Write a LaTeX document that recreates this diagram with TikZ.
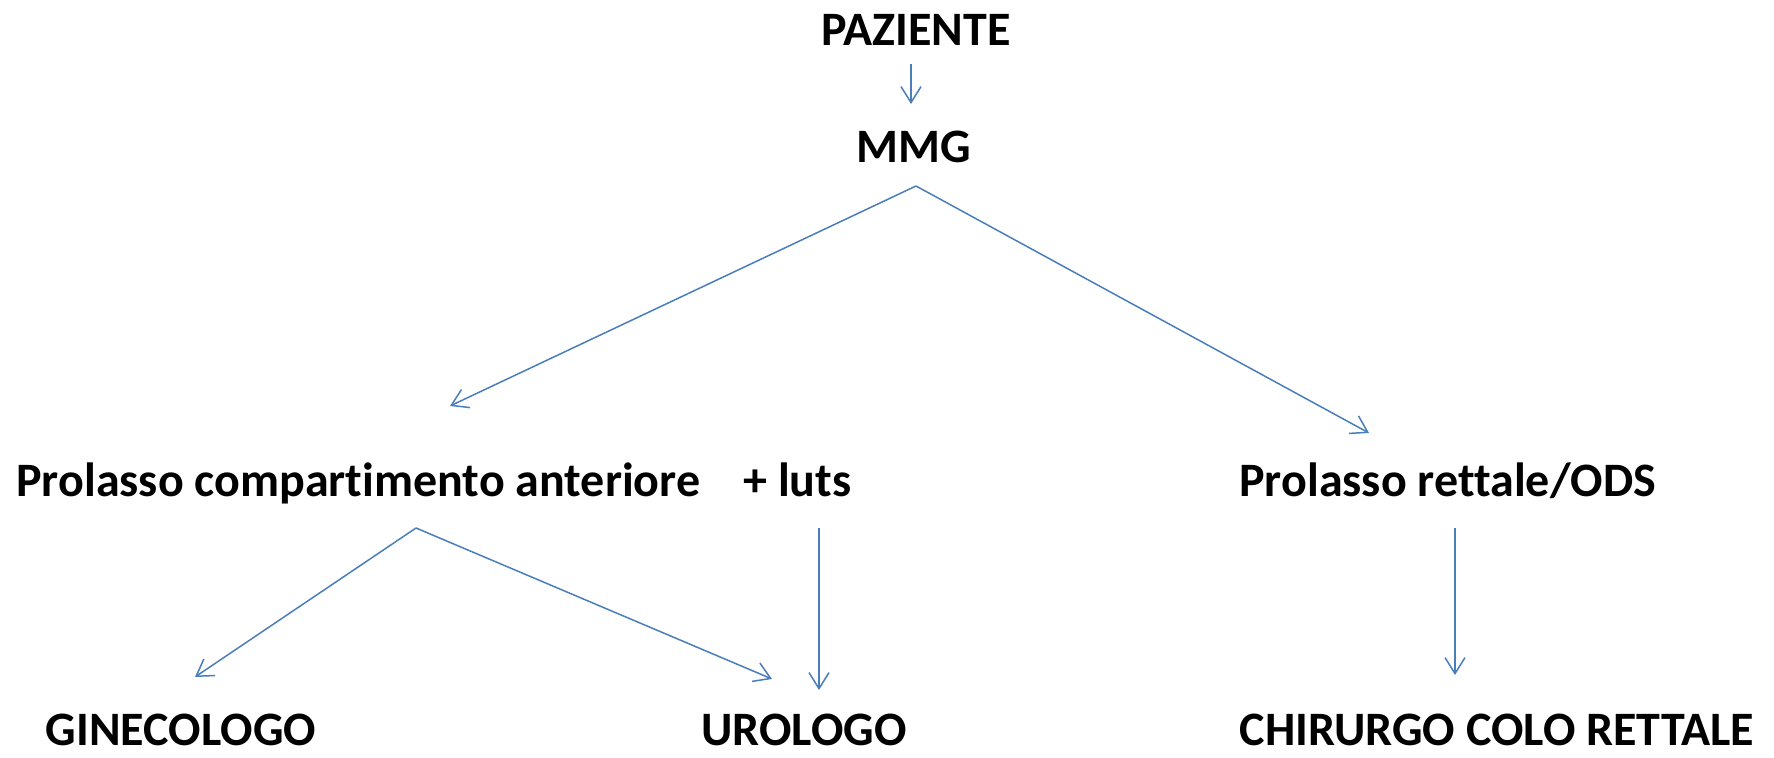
\documentclass[tikz,border=0pt]{standalone}
\usepackage{fontspec}
\setmainfont[Ligatures=NoCommon]{Carlito}
\usetikzlibrary{arrows.meta}
\definecolor{arrowblue}{HTML}{4A7EBB}
\tikzset{
  lbl/.style={font=\fontsize{24}{29}\selectfont\bfseries, inner sep=0pt, anchor=base},
  conn/.style={draw=arrowblue, line width=0.75pt, -{Straight Barb[length=8pt,width=10pt,line width=0.75pt]}}
}
\begin{document}
\begin{tikzpicture}[x=0.5pt,y=-0.5pt]
\useasboundingbox (0,0) rectangle (1774,758);
\node[lbl] (paz) at (916,46) {PAZIENTE};
\node[lbl] (mmg) at (914,163) {MMG};
\node[lbl,anchor=base west] (pca) at (16,497) {Prolasso compartimento anteriore};
\node[lbl,anchor=base west] (luts) at (743,497) {+ luts};
\node[lbl,anchor=base west] (prr) at (1239,497) {Prolasso rettale/ODS};
\node[lbl] (gin) at (181,746) {GINECOLOGO};
\node[lbl] (uro) at (804,746) {UROLOGO};
\node[lbl] (chir) at (1497,746) {CHIRURGO COLO RETTALE};
\coordinate (pazB) at (911,64);
\coordinate (mmgT) at (911,104);
\coordinate (mmgB) at (916,186);
\coordinate (pcaT) at (450,406);
\coordinate (prrT) at (1369,433);
\coordinate (pcaB) at (416,528);
\coordinate (ginT) at (195,677);
\coordinate (uroT) at (772,679);
\coordinate (lutsB) at (819,528);
\coordinate (uroT2) at (819,690);
\coordinate (prrB) at (1455,528);
\coordinate (chirT) at (1455,675);
\draw[conn] (pazB) -- (mmgT);
\draw[conn] (mmgB) -- (pcaT);
\draw[conn] (mmgB) -- (prrT);
\draw[conn] (pcaB) -- (ginT);
\draw[conn] (pcaB) -- (uroT);
\draw[conn] (lutsB) -- (uroT2);
\draw[conn] (prrB) -- (chirT);
\end{tikzpicture}
\end{document}
